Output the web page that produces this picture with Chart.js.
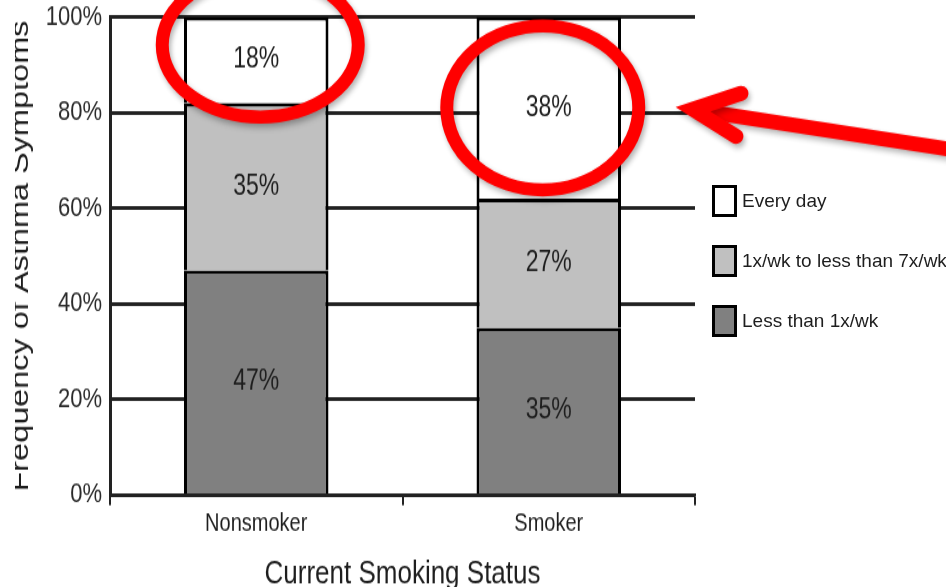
<!DOCTYPE html>
<html>
<head>
<meta charset="utf-8">
<script src="https://cdn.jsdelivr.net/npm/chart.js@4"></script>
<style>
  html, body { margin: 0; padding: 0; background: #fff; }
  body { width: 946px; height: 587px; position: relative; overflow: hidden; font-family: "Liberation Sans", Arial, sans-serif; }
  /* the chart is drawn squat and stretched tall, which gives the narrow lettering */
  #clip { position: absolute; left: 15px; top: 0; width: 931px; height: 587px; overflow: hidden; }
  #stretch { position: absolute; left: -10px; top: 0; width: 945px; height: 470px; transform: scaleY(1.249); transform-origin: 0 0; }
  #legend { position: absolute; left: 712px; top: 185px; }
  #legend .item { position: relative; height: 60px; }
  #legend .box { position: absolute; left: 0; top: 0; width: 25px; height: 32px; box-sizing: border-box; border: 3px solid #000; }
  #legend .text { position: absolute; left: 30px; top: 5px; font-size: 19px; line-height: 22px; color: #1e1e1e; white-space: nowrap; }
</style>
</head>
<body>
<div id="clip"><div id="stretch"><canvas id="chart"></canvas></div></div>
<div id="legend"></div>
<script>
const STRETCH = 1.249;
const FONT = '"Liberation Sans", Arial, sans-serif';

const categories = ['Nonsmoker', 'Smoker'];
const lessThanWeekly = [47, 35];
const weeklyNotDaily = [35, 27];
const everyDay = [18, 38];
const seriesNames = ['Less than 1x/wk', '1x/wk to less than 7x/wk', 'Every day'];
const seriesColors = ['#808080', '#c0c0c0', '#ffffff'];
const yTicks = [0, 20, 40, 60, 80, 100];

// percentage written in the middle of each segment
const barLabels = {
  id: 'barLabels',
  afterDatasetsDraw(chart) {
    const ctx = chart.ctx;
    ctx.save();
    ctx.font = '23px ' + FONT;
    ctx.fillStyle = '#1e1e1e';
    ctx.textAlign = 'center';
    ctx.textBaseline = 'middle';
    chart.data.datasets.forEach((ds, i) => {
      chart.getDatasetMeta(i).data.forEach((bar, j) => {
        ctx.fillText(ds.data[j] + '%', bar.x, (bar.y + bar.base) / 2);
      });
    });
    ctx.restore();
  }
};

// red rings round the "Every day" shares and the arrow pointing at the smokers' one
const callouts = {
  id: 'callouts',
  afterDraw(chart) {
    const ctx = chart.ctx;
    const bars = chart.getDatasetMeta(2).data;
    const rings = [
      { dx: 4, dy: -15, rx: 98, ry: 72 },
      { dx: -6, dy: 0, rx: 96, ry: 82 }
    ];
    ctx.save();
    ctx.scale(1, 1 / STRETCH); // page pixels, so the strokes stay even
    ctx.strokeStyle = '#ff0000';
    ctx.shadowColor = 'rgba(0,0,0,0.3)';
    ctx.shadowBlur = 5;
    ctx.shadowOffsetX = 2;
    ctx.shadowOffsetY = 3;
    ctx.lineWidth = 13;
    bars.forEach((bar, j) => {
      const r = rings[j];
      const cy = (bar.y + bar.base) / 2 * STRETCH;
      ctx.beginPath();
      ctx.ellipse(bar.x + r.dx, cy + r.dy, r.rx, r.ry, 0, 0, Math.PI * 2);
      ctx.stroke();
    });

    const last = bars[bars.length - 1];
    const tipX = chart.chartArea.right - 2;
    const tipY = (last.y + last.base) / 2 * STRETCH + 1.5;
    ctx.lineWidth = 15;
    ctx.lineCap = 'round';
    ctx.lineJoin = 'miter';
    ctx.beginPath();
    ctx.moveTo(tipX + 270, tipY + 42);
    ctx.lineTo(tipX + 6, tipY + 1);
    ctx.stroke();
    ctx.beginPath();
    ctx.moveTo(tipX + 48, tipY - 16);
    ctx.lineTo(tipX, tipY);
    ctx.lineTo(tipX + 43, tipY + 27);
    ctx.stroke();
    ctx.restore();
  }
};

const chart = new Chart(document.getElementById('chart'), {
  type: 'bar',
  data: {
    labels: categories,
    datasets: [lessThanWeekly, weeklyNotDaily, everyDay].map((values, i) => ({
      label: seriesNames[i],
      data: values,
      backgroundColor: seriesColors[i],
      borderColor: '#000',
      borderWidth: 3,
      barPercentage: 0.494,
      categoryPercentage: 1
    }))
  },
  options: {
    responsive: true,
    maintainAspectRatio: false,
    animation: false,
    layout: { padding: { left: 0, right: 255, top: 13.6, bottom: 0 } },
    plugins: { legend: { display: false }, tooltip: { enabled: false } },
    scales: {
      x: {
        stacked: true,
        afterFit: s => { s.height = 73.6; s.paddingLeft = 0; s.paddingRight = 0; },
        border: { color: '#222', width: 2.6 },
        grid: { drawOnChartArea: false, drawTicks: true, tickLength: 8, color: '#222', lineWidth: 2, offset: true },
        ticks: { padding: 3, color: '#1e1e1e', font: { family: FONT, size: 20 } },
        title: {
          display: true, text: 'Current Smoking Status', color: '#1e1e1e',
          font: { family: FONT, size: 26 }, padding: { top: 0, bottom: -5 }
        }
      },
      y: {
        stacked: true,
        min: 0,
        max: 100,
        afterFit: s => { s.width = 105; s.paddingTop = 0; s.paddingBottom = 0; },
        afterBuildTicks: s => { s.ticks = yTicks.map(v => ({ value: v })); },
        border: { color: '#222', width: 3 },
        grid: { color: '#222', lineWidth: 3, drawTicks: false },
        ticks: { padding: 8, color: '#2a2a2a', font: { family: FONT, size: 22 }, callback: v => v + '%' },
        title: {
          display: true, text: 'Frequency of Asthma Symptoms', color: '#1e1e1e',
          font: { family: FONT, size: 26 }, padding: 0
        }
      }
    }
  },
  plugins: [barLabels, callouts]
});

// legend beside the plot, top entry first
const legend = document.getElementById('legend');
chart.data.datasets.slice().reverse().forEach(ds => {
  const row = document.createElement('div');
  row.className = 'item';
  row.innerHTML = '<span class="box" style="background:' + ds.backgroundColor + '"></span>' +
    '<span class="text">' + ds.label + '</span>';
  legend.appendChild(row);
});
</script>
</body>
</html>
